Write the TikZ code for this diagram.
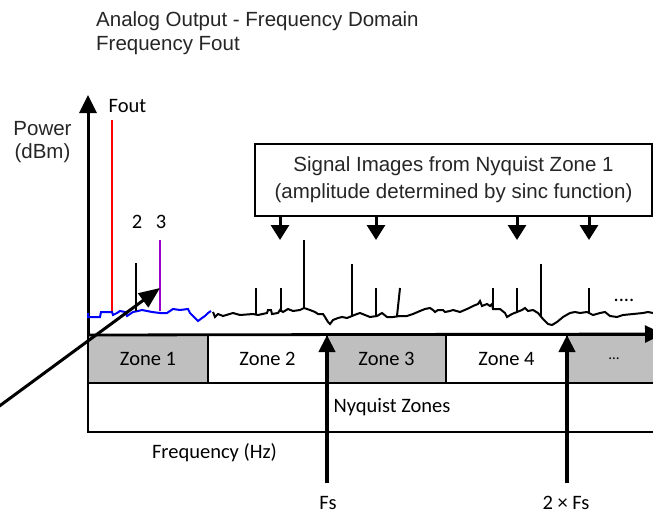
\documentclass[tikz,border=0pt]{standalone}
\usepackage{fontspec}
\setmainfont{Carlito}
\newfontfamily\arialfont{Liberation Sans}
\usetikzlibrary{arrows.meta}

\definecolor{zonegray}{HTML}{BFBFBF}
\definecolor{labelgray}{HTML}{262626}
\definecolor{toneviolet}{HTML}{9A00CC}
\definecolor{noiseblue}{HTML}{0000FF}
\definecolor{toneRed}{HTML}{FF0000}

\tikzset{
  axisline/.style={line width=3pt},
  spike/.style={line width=2pt},
  noise/.style={line width=2pt, line join=miter},
  zone/.style={draw, line width=2.5pt, minimum height=48pt, inner sep=0pt,
               font=\fontsize{20.5}{24}\selectfont},
  sigarrow/.style={line width=3pt, -{Triangle[length=15pt,width=18pt]}},
  fsarrow/.style={line width=4pt, -{Triangle[length=17pt,width=16pt]}},
  arialtext/.style={font=\arialfont\fontsize{20.5}{23.5}\selectfont, text=labelgray, inner sep=0pt},
  caltext/.style={font=\fontsize{20.5}{24}\selectfont, inner sep=0pt},
}

\begin{document}
\begin{tikzpicture}[x=1pt,y=-1pt]
  \useasboundingbox (0,0) rectangle (653,514);
  \fill[white] (0,0) rectangle (653,514);
  \clip (0,0) rectangle (653,514);

  % headings
  \node[arialtext, anchor=base west] (title1) at (96,27) {Analog Output - Frequency Domain};
  \node[arialtext, anchor=base west] (title2) at (96,50) {Frequency Fout};

  % y-axis label
  \node[arialtext, anchor=base] (ylab1) at (42.5,135) {Power};
  \node[arialtext, anchor=base] (ylab2) at (42.5,158) {(dBm)};

  % Nyquist zone strip
  \node[zone, fill=zonegray, minimum width=120pt] (z1) at (148,359) {Zone 1};
  \node[zone, fill=white,    minimum width=119pt] (z2) at (267.5,359) {Zone 2};
  \node[zone, fill=zonegray, minimum width=119pt] (z3) at (386.5,359) {Zone 3};
  \node[zone, fill=white,    minimum width=121pt] (z4) at (506.5,359) {Zone 4};
  \node[zone, fill=zonegray, minimum width=93pt]  (z5) at (613.5,359) {};
  \node[inner sep=0pt, font=\fontsize{15}{15}\selectfont] (z5dots) at (614,359) {…};
  \node[zone, fill=white, minimum width=608pt, minimum height=49pt] (nyq) at (392,407.5) {Nyquist Zones};

  \node[caltext] (freq) at (214.5,453) {Frequency (Hz)};

  % axes
  \coordinate (origin) at (88,335);
  \coordinate (ytip) at (88,95);
  \coordinate (xtip) at (663,334);
  \draw[axisline, -{Triangle[length=18pt,width=17pt]}] (origin) -- (ytip);
  \draw[line width=2.8pt, -{Triangle[length=18pt,width=17pt]}] (origin) -- (xtip);

  % noise floor, first zone
  \draw[noise, noiseblue] (88,313) -- (88,317) -- (100,317) -- (101,312) -- (112,312)
    -- (113,315) -- (117,313) -- (120,311) -- (125,312) -- (127,316) -- (130,314)
    -- (133,312) -- (138,311) -- (142,310) -- (152,312) -- (160,313) -- (167,313)
    -- (170,311) -- (173,309) -- (180,310) -- (188,309) -- (190,313) -- (195,318)
    -- (198,321) -- (202,318) -- (205,316) -- (208,313) -- (211,311);

  % noise floor, higher zones
  \draw[noise] (213,312) -- (215,317) -- (218,314) -- (223,316) -- (233,313) -- (240,315)
    -- (253,314) -- (258,315) -- (267,313) -- (268,310) -- (271,310) -- (272,314)
    -- (278,313) -- (280,310) -- (283,312) -- (288,309) -- (293,311) -- (300,310)
    -- (304,308) -- (310,310) -- (315,312) -- (318,314) -- (323,314) -- (325,317)
    -- (328,322) -- (330,324) -- (333,320) -- (338,318) -- (342,317) -- (347,318)
    -- (352,316) -- (357,314) -- (360,313) -- (365,315) -- (370,317) -- (377,316)
    -- (382,313) -- (387,317) -- (393,317) -- (400,316) -- (407,316) -- (413,314)
    -- (420,311) -- (425,309) -- (430,308) -- (433,310) -- (435,312) -- (438,310)
    -- (443,310) -- (445,312) -- (450,311) -- (453,310) -- (460,312) -- (467,309)
    -- (473,306) -- (478,304) -- (480,301) -- (482,306) -- (487,304) -- (490,306)
    -- (492,304) -- (493,309) -- (500,309) -- (505,313) -- (507,317) -- (512,314)
    -- (517,312) -- (522,310) -- (525,308) -- (528,311) -- (533,310) -- (538,313)
    -- (543,319) -- (548,324) -- (552,325) -- (557,322) -- (563,317) -- (570,313)
    -- (575,312) -- (580,313) -- (587,312) -- (593,315) -- (600,313) -- (605,312)
    -- (610,316) -- (617,317) -- (623,315) -- (633,314) -- (643,313) -- (648,312)
    -- (653,313);

  % fundamental and harmonics
  \draw[spike, toneRed] (112,120) -- (112,311);
  \draw[spike] (136,263) -- (136,311);
  \draw[spike, toneviolet] (160,240) -- (160,311);
  \node[caltext, anchor=base] (foutlab) at (127.5,112) {Fout};
  \node[caltext, anchor=base] (h2) at (137,228) {2};
  \node[caltext, anchor=base] (h3) at (161,228) {3};

  % images in the higher zones
  \draw[spike] (256,288) -- (256,314);
  \draw[spike] (281,288) -- (281,312);
  \draw[spike] (304,240) -- (304,309);
  \draw[spike] (352,264) -- (352,316);
  \draw[spike] (376,288) -- (376,316);
  \draw[spike] (400,288) -- (397,316);
  \draw[spike] (493,288) -- (493,309);
  \draw[spike] (517,288) -- (517,312);
  \draw[spike] (541,264) -- (541,317);
  \draw[spike] (589,288) -- (589,313);
  \node[caltext, anchor=base] (more) at (624,301) {....};

  % callout box and its pointers
  \node[draw, line width=2.3pt, minimum width=397pt, minimum height=72pt, align=center,
        font=\arialfont\fontsize{20.5}{27}\selectfont, text=labelgray, inner sep=0pt]
        (sigbox) at (453.5,180)
        {Signal Images from Nyquist Zone 1\\(amplitude determined by sinc function)};
  \foreach \px/\nm in {280/a, 376/b, 517/c, 589/d}{
    \coordinate (pt\nm) at (\px,240);
    \draw[sigarrow] (sigbox.south -| pt\nm) -- (pt\nm);
  }

  % sampling frequency markers
  \coordinate (fsfoot) at (327,483);
  \coordinate (fshead) at (327,335);
  \coordinate (fs2foot) at (567,483);
  \coordinate (fs2head) at (567,335);
  \draw[fsarrow] (fsfoot) -- (fshead);
  \draw[fsarrow] (fs2foot) -- (fs2head);
  \node[caltext] (fslab) at (328,503) {Fs};
  \node[caltext] (fs2lab) at (566,503) {2 × Fs};

  % pointer to the third harmonic
  \coordinate (diagstart) at (-6,410);
  \coordinate (diagtip) at (160,288);
  \draw[line width=3pt, -{Triangle[length=21pt,width=17pt]}] (diagstart) -- (diagtip);
\end{tikzpicture}
\end{document}
